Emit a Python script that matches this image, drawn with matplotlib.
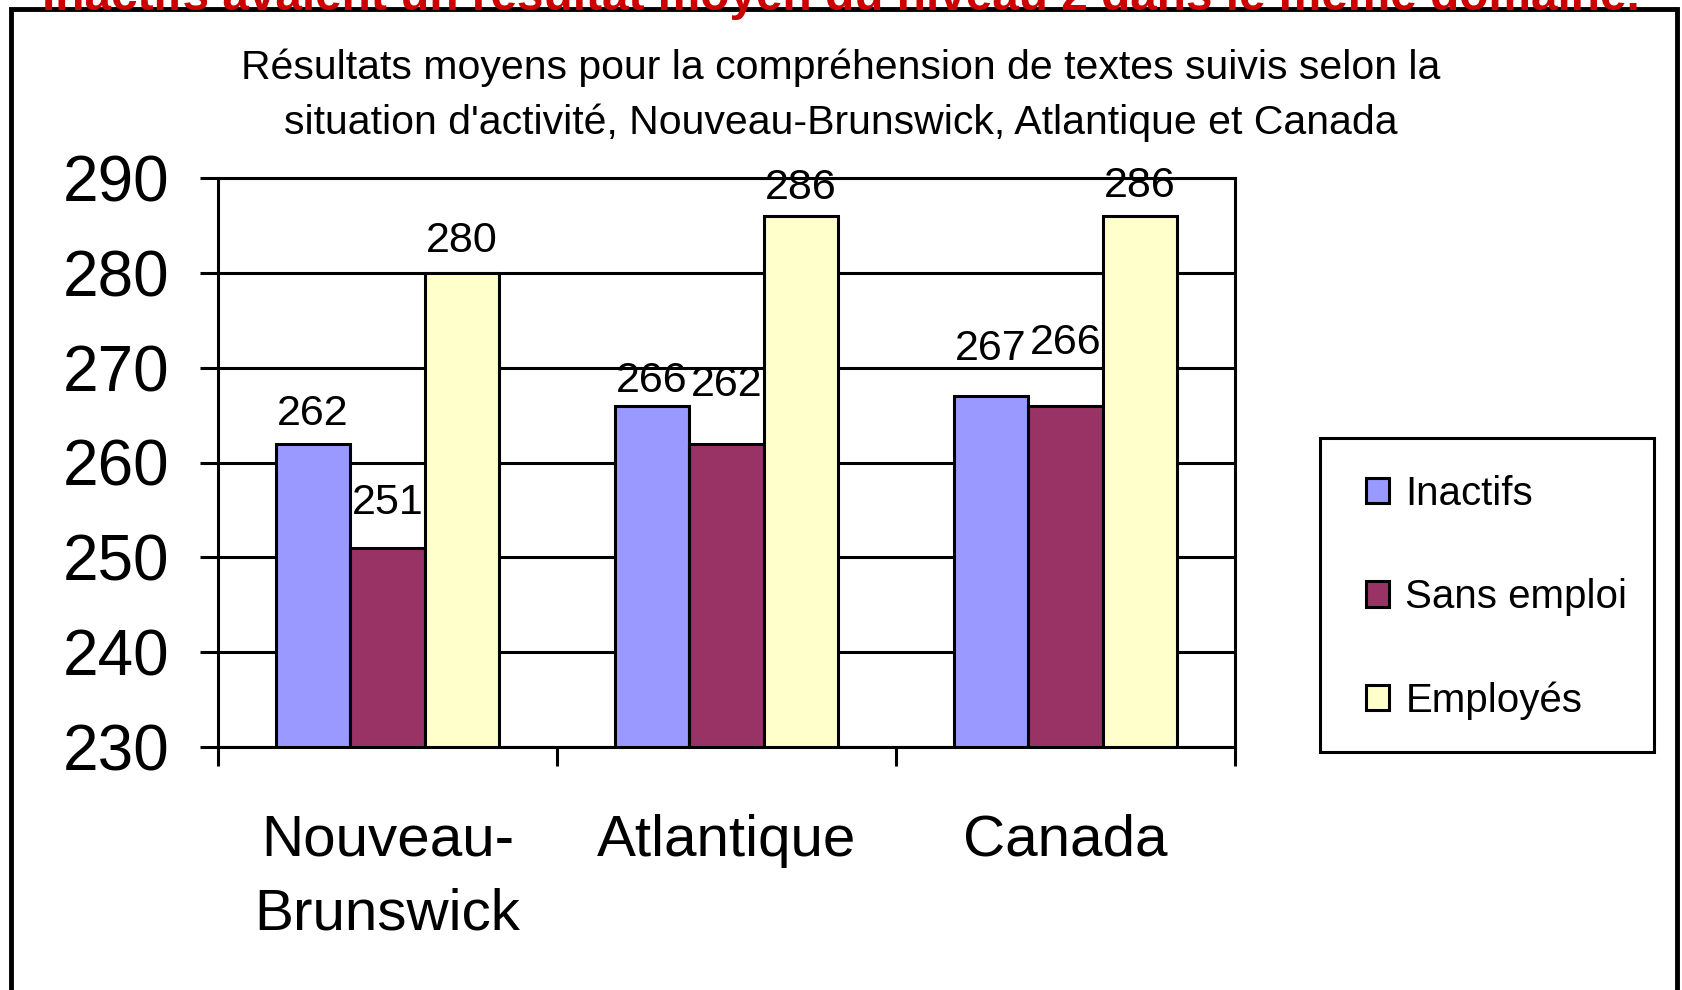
import matplotlib
matplotlib.use("Agg")
import matplotlib.pyplot as plt
import numpy as np
from matplotlib.patches import Rectangle

plt.rcParams['font.family'] = ['Liberation Sans', 'DejaVu Sans']

categories = ["Nouveau-\nBrunswick", "Atlantique", "Canada"]
series_names = ["Inactifs", "Sans emploi", "Employés"]
inactifs = [262, 266, 267]
sans_emploi = [251, 262, 266]
employes = [280, 286, 286]
colors = ["#9999FF", "#993366", "#FFFFCC"]
yticks = [230, 240, 250, 260, 270, 280, 290]
title = "Résultats moyens pour la compréhension de textes suivis selon la\nsituation d'activité, Nouveau-Brunswick, Atlantique et Canada"
red_text = "Inactifs avaient un résultat moyen du niveau 2 dans le même domaine."

# label offsets above bars (points), per series then per category (layout only)
label_gaps = [[13, 10, 26], [24.3, 34, 37], [15.3, 12.5, 13.5]]

W, H = 1682, 990
fig = plt.figure(figsize=(W/100, H/100), dpi=100)
ax = fig.add_axes([218/W, 1-747/H, (1235-218)/W, (747-178)/H])

x = np.arange(len(categories))
bw = 0.22
data = [inactifs, sans_emploi, employes]
handles = []
for i, (vals, c, name) in enumerate(zip(data, colors, series_names)):
    b = ax.bar(x + (i-1)*bw, np.array(vals)-230, bw, bottom=230, color=c,
               edgecolor='black', linewidth=2.2, label=name, zorder=3)
    handles.append(b)
    for j, (xi, v) in enumerate(zip(x + (i-1)*bw, vals)):
        ax.annotate(str(v), (xi, v), xytext=(0, label_gaps[i][j]), textcoords='offset points',
                    ha='center', va='baseline', fontsize=31, zorder=5)

ax.set_ylim(230, 290)
ax.set_xlim(-0.5, 2.5)
ax.set_yticks(yticks)
ax.set_yticklabels([str(t) for t in yticks], fontsize=46)
ax.yaxis.grid(True, color='black', linewidth=2.2, zorder=1)
ax.set_axisbelow(True)
ax.set_xticks(x)
ax.set_xticklabels(categories, fontsize=42, linespacing=1.47)
ax.set_xticks([-0.5, 0.5, 1.5, 2.5], minor=True)
ax.tick_params(axis='x', which='major', length=0, pad=48)
ax.tick_params(axis='x', which='minor', length=14, width=2.2, direction='out')
ax.tick_params(axis='y', length=13, width=2.2, direction='out', pad=22)
for s in ax.spines.values():
    s.set_linewidth(2.2)
    s.set_color('black')

# legend box
fig.add_artist(Rectangle((1319.5/W, 1-752/H), (1654-1319.5)/W, (752-437.7)/H,
                         transform=fig.transFigure, facecolor='white', edgecolor='black',
                         linewidth=2.2, zorder=2))
leg = fig.legend(handles=handles, labels=series_names, loc='center left',
                 bbox_to_anchor=(1365.6/W, 1-597.5/H), borderaxespad=0, borderpad=0,
                 fontsize=29, frameon=False,
                 handlelength=0.59, handleheight=0.59, labelspacing=1.62,
                 handletextpad=0.4)
leg.set_zorder(3)
for h in leg.legend_handles:
    h.set_linewidth(2.2)

fig.text(0.5, 1-95/H, title, ha='center', va='center', fontsize=29.5, linespacing=1.55)
fig.text(0.5, 1-10/H, red_text, ha='center', va='baseline', fontsize=34.4, fontweight='bold',
         color='#CC0000', zorder=10)

fig.add_artist(Rectangle((11/W, -0.1), (1677-11)/W, 1-9/H+0.1, transform=fig.transFigure,
                         fill=False, edgecolor='black', linewidth=3.5, clip_on=False, zorder=1))

fig.savefig("out.png", dpi=100)
